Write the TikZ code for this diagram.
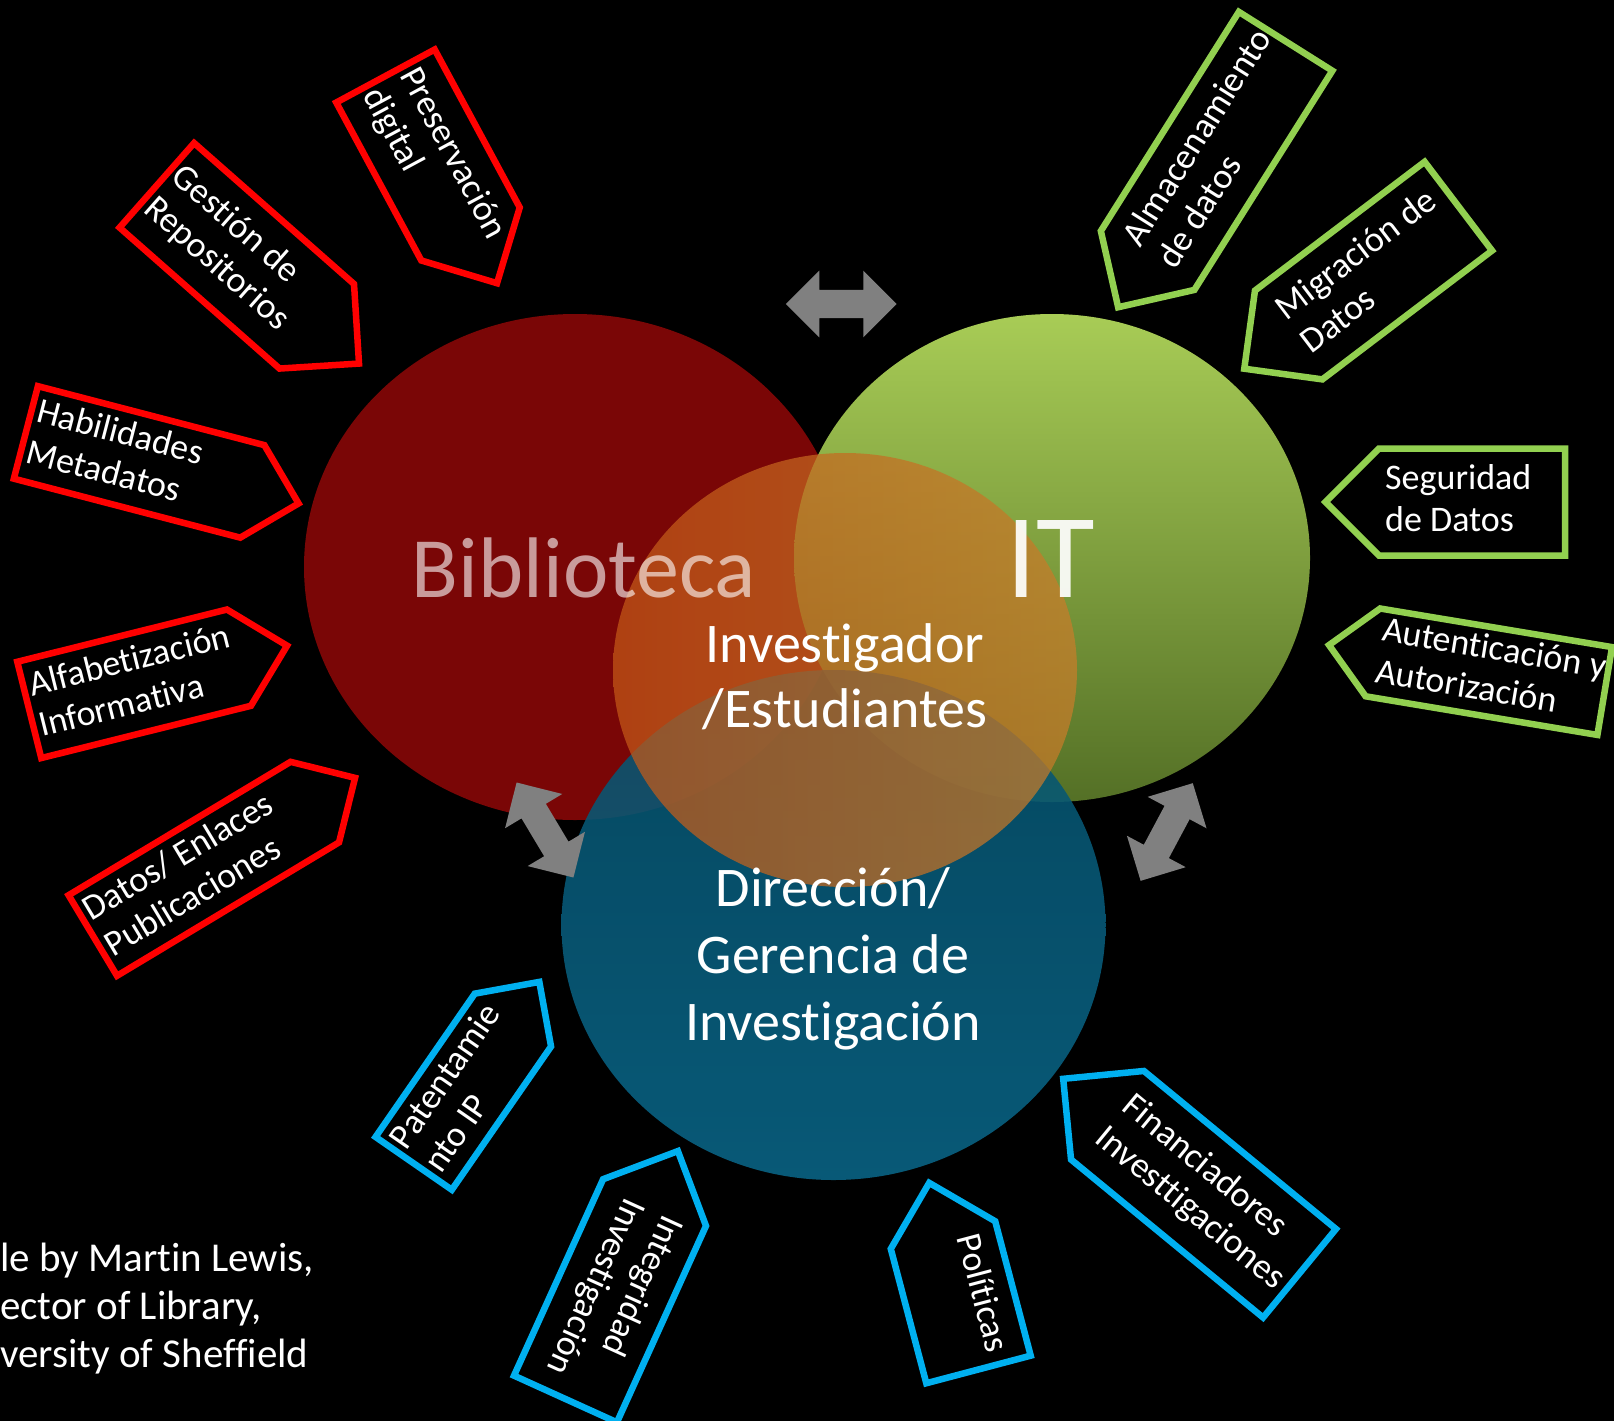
\documentclass[tikz,border=0pt]{standalone}
\usepackage{fontspec}
\setmainfont{Carlito}[Ligatures=NoCommon]
\definecolor{tagred}{RGB}{255,0,0}
\definecolor{taggreen}{RGB}{146,208,80}
\definecolor{tagblue}{RGB}{0,176,240}
\definecolor{bibred}{RGB}{122,6,6}
\definecolor{itgreenT}{RGB}{168,204,86}
\definecolor{itgreenB}{RGB}{84,112,38}
\definecolor{dirblueT}{RGB}{5,82,110}
\definecolor{dirblueB}{RGB}{10,102,136}
\definecolor{invL}{RGB}{196,88,24}
\definecolor{invR}{RGB}{200,125,42}
\definecolor{arrgray}{RGB}{128,128,128}
\tikzset{
  tagline/.style={line width=6.5pt, line join=miter},
  tagtext/.style={text=white, font=\fontsize{36}{42}\selectfont, align=left,
    inner sep=0pt, anchor=west, transform shape},
  arrowfill/.style={fill=arrgray, draw=none},
  circtext/.style={text=white, inner sep=0pt}
}
% #1 name, #2 cx, #3 cy, #4 rotation, #5 body length, #6 height, #7 tip side (1 end, -1 start), #8 colour, #9 text
\newcommand{\mytagbox}[9]{%
  \begin{scope}[shift={(#2,#3)}, rotate=#4]
    \draw[tagline, draw=#8]
      ({-(#7)*#5/2},{-#6/2}) -- ({(#7)*#5/2},{-#6/2}) -- ({(#7)*(#5/2+#6/2)},0)
      -- ({(#7)*#5/2},{#6/2}) -- ({-(#7)*#5/2},{#6/2}) -- cycle;
    \node[tagtext] (#1) at ({-#5/2+6},0) {\strut #9\strut};
  \end{scope}}
% double-headed block arrow: #1 name, #2 cx, #3 cy, #4 rotation
\newcommand{\mydblarrow}[4]{%
  \begin{scope}[shift={(#2,#3)}, rotate=#4]
    \coordinate (#1) at (0,0);
    \fill[arrowfill] (-55.35,0) -- (-22.05,-33.35) -- (-22.05,-14.2) -- (22.05,-14.2)
      -- (22.05,-33.35) -- (55.35,0) -- (22.05,33.35) -- (22.05,14.2)
      -- (-22.05,14.2) -- (-22.05,33.35) -- cycle;
  \end{scope}}
\begin{document}
\begin{tikzpicture}[x=1pt,y=-1pt]
\useasboundingbox (0,0) rectangle (1614,1421);
\fill[black] (0,0) rectangle (1614,1421);

% circles
\fill[bibred] (575,567) ellipse [x radius=271, y radius=253];
\shade[top color=itgreenT, bottom color=itgreenB] (1052,558) ellipse [x radius=258, y radius=244];
\shade[top color=dirblueT, bottom color=dirblueB, fill opacity=0.88] (833.5,925) ellipse [x radius=272, y radius=255];
\shade[left color=invL, right color=invR, fill opacity=0.72] (845,670) ellipse [x radius=232, y radius=217];

% circle texts
\node[circtext, text opacity=0.6, font=\fontsize{86}{100}\selectfont, anchor=base] (bibl) at (584,597) {Biblioteca};
\node[circtext, text opacity=0.92, font=\fontsize{120}{130}\selectfont, anchor=base] (itl) at (1051,597) {IT};
\node[circtext, font=\fontsize{56}{65.5}\selectfont, align=center, anchor=north] (invl) at (845,616.2) {\strut Investigador\\/Estudiantes};
\node[circtext, font=\fontsize{56}{67}\selectfont, align=center, anchor=north] (dirl) at (833,859.1) {\strut Dirección/\\Gerencia de\\Investigación};

% arrows between circles
\mydblarrow{arrBI}{841.3}{304}{0}
\mydblarrow{arrBD}{545}{830}{-59.1}
\mydblarrow{arrID}{1166.7}{832}{-118.1}

% red tags
\mytagbox{tagPres}{428}{155}{-61.7}{179.4}{111.8}{1}{tagred}{Preservación\\digital}
\mytagbox{tagGest}{236.8}{255.8}{-41.4}{213.2}{112.7}{1}{tagred}{Gestión de\\Repositorios}
\mytagbox{tagHab}{139.1}{461.9}{-14.6}{234}{95.6}{1}{tagred}{Habilidades\\Metadatos}
\mytagbox{tagAlf}{134.1}{683.8}{14.0}{216.1}{99.2}{1}{tagred}{Alfabetización\\Informativa}
\mytagbox{tagDat}{203.8}{868.8}{31.0}{259}{94}{1}{tagred}{Datos/ Enlaces\\Publicaciones}

% green tags
\mytagbox{tagAlm}{1216.6}{150.9}{57.8}{259}{110.5}{-1}{taggreen}{Almacenamiento\\de datos}
\mytagbox{tagMig}{1373.5}{270.6}{37.2}{213}{111.5}{-1}{taggreen}{Migración de\\Datos}
\mytagbox{tagSeg}{1472}{502}{0}{186}{107}{-1}{taggreen}{Seguridad\\de Datos}
\mytagbox{tagAut}{1488.8}{671.7}{-9.46}{235}{89}{-1}{taggreen}{Autenticación y\\Autorización}

% blue tags
\mytagbox{tagPat}{463.3}{1091.7}{55.3}{174.3}{92.8}{1}{tagblue}{Patentamie\\nto IP}
\mytagbox{tagInt}{610}{1300.75}{-114.4}{215.7}{113}{-1}{tagblue}{Integridad\\Investigación}
\mytagbox{tagPol}{960.75}{1302.25}{-75.2}{139}{108}{-1}{tagblue}{Políticas\\}
\mytagbox{tagFin}{1203.5}{1194.25}{-39.45}{248.7}{114.7}{-1}{tagblue}{Financiadores\\Investtigaciones}

% credit
\node[circtext, font=\fontsize{41}{48}\selectfont, align=left, anchor=north west] (credit) at (0,1237.9) {\strut le by Martin Lewis,\\ector of Library,\\versity of Sheffield};
\end{tikzpicture}
\end{document}
